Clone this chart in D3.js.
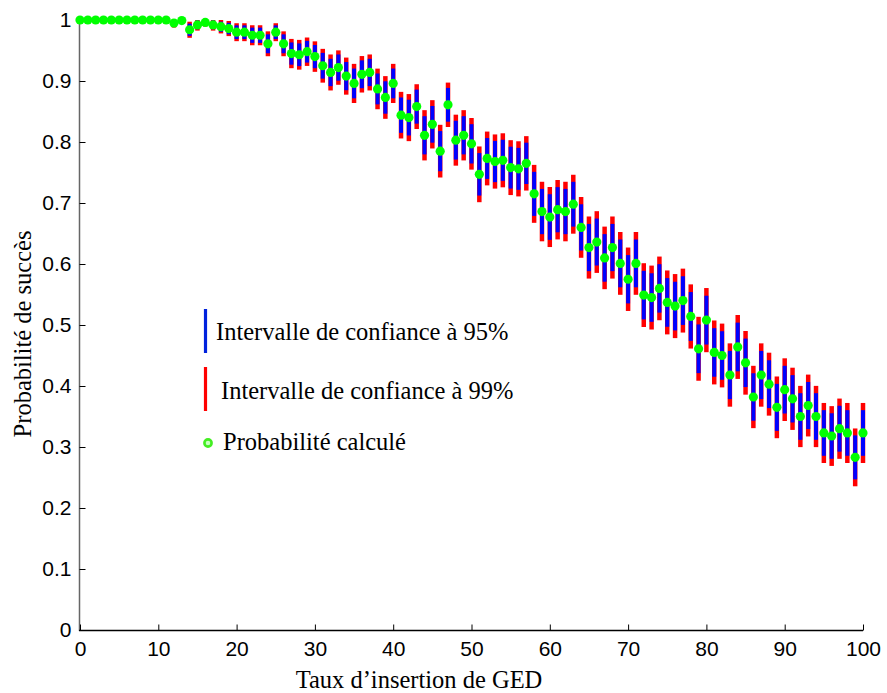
<!DOCTYPE html>
<html><head><meta charset="utf-8">
<script src="https://cdn.jsdelivr.net/npm/d3@7/dist/d3.min.js"></script>
<style>body{margin:0;background:#fff}svg{display:block}</style>
</head><body>
<svg id="c" width="887" height="693"></svg>
<script>
// Taux d'insertion de GED (x categories)
const rates = [0,1,2,3,4,5,6,7,8,9,10,11,12,13,14,15,16,17,18,19,20,21,22,23,24,25,26,27,28,29,30,31,32,33,34,35,36,37,38,39,40,41,42,43,44,45,46,47,48,49,50,51,52,53,54,55,56,57,58,59,60,61,62,63,64,65,66,67,68,69,70,71,72,73,74,75,76,77,78,79,80,81,82,83,84,85,86,87,88,89,90,91,92,93,94,95,96,97,98,99,100];
// Probabilité calculé
const prob = [1,1,1,1,1,1,1,1,1,1,1,1,
 0.995,0.999,0.984,0.992,0.996,0.992,0.989,0.986,0.980,0.980,0.975,0.975,0.961,0.980,0.961,0.945,0.943,0.948,0.940,
 0.925,0.914,0.922,0.908,0.896,0.911,0.914,0.887,0.873,0.896,0.844,0.840,0.858,0.811,0.829,0.785,0.861,0.803,0.811,0.797,
 0.747,0.773,0.768,0.770,0.758,0.756,0.765,0.715,0.686,0.677,0.689,0.686,0.698,0.660,0.627,0.636,0.610,0.627,0.601,0.575,
 0.601,0.549,0.545,0.560,0.537,0.531,0.540,0.514,0.461,0.508,0.455,0.450,0.418,0.464,0.438,0.382,0.418,0.403,0.365,0.394,
 0.379,0.350,0.368,0.350,0.323,0.318,0.330,0.323,0.283,0.323];
// half-width of the 95% confidence interval
const hw95 = [0,0,0,0,0,0,0,0,0,0,0,0,
 0.0056,0.0035,0.0100,0.0071,0.0051,0.0071,0.0083,0.0094,0.0112,0.0112,0.0125,0.0125,0.0155,0.0112,0.0155,0.0182,0.0186,0.0178,0.0190,
 0.0211,0.0224,0.0215,0.0231,0.0244,0.0228,0.0224,0.0253,0.0266,0.0244,0.0290,0.0293,0.0279,0.0313,0.0301,0.0329,0.0277,0.0318,0.0313,0.0322,
 0.0348,0.0335,0.0338,0.0337,0.0343,0.0344,0.0339,0.0361,0.0371,0.0374,0.0370,0.0371,0.0367,0.0379,0.0387,0.0385,0.0390,0.0387,0.0392,0.0396,
 0.0392,0.0398,0.0398,0.0397,0.0399,0.0399,0.0399,0.0400,0.0399,0.0400,0.0398,0.0398,0.0395,0.0399,0.0397,0.0389,0.0395,0.0392,0.0385,0.0391,
 0.0388,0.0382,0.0386,0.0382,0.0374,0.0373,0.0376,0.0374,0.0360,0.0374];
// half-width of the 99% confidence interval
const hw99 = [0,0,0,0,0,0,0,0,0,0,0,0,
 0.0074,0.0047,0.0132,0.0094,0.0066,0.0094,0.0110,0.0124,0.0147,0.0147,0.0164,0.0164,0.0204,0.0147,0.0204,0.0240,0.0244,0.0233,0.0250,
 0.0277,0.0295,0.0282,0.0304,0.0321,0.0299,0.0295,0.0333,0.0350,0.0321,0.0382,0.0386,0.0367,0.0412,0.0396,0.0432,0.0364,0.0418,0.0412,0.0423,
 0.0457,0.0441,0.0444,0.0443,0.0450,0.0452,0.0446,0.0475,0.0488,0.0492,0.0487,0.0488,0.0483,0.0498,0.0509,0.0506,0.0513,0.0509,0.0515,0.0520,
 0.0515,0.0523,0.0524,0.0522,0.0524,0.0525,0.0524,0.0526,0.0524,0.0526,0.0524,0.0523,0.0519,0.0524,0.0522,0.0511,0.0519,0.0516,0.0506,0.0514,
 0.0510,0.0502,0.0507,0.0502,0.0492,0.0490,0.0494,0.0492,0.0474,0.0492];
const xTicks = [0,10,20,30,40,50,60,70,80,90,100];
const yTicks = [0,0.1,0.2,0.3,0.4,0.5,0.6,0.7,0.8,0.9,1];
const legendLabels = ["Intervalle de confiance à 95%","Intervalle de confiance à 99%","Probabilité calculé"];
const xTitle = "Taux d\u2019insertion de GED";
const yTitle = "Probabilité de succès";

const data = rates.map((r,i)=>({x:r,p:prob[i],h95:hw95[i],h99:hw99[i]}));
const svg = d3.select("#c");
const x = d3.scaleLinear().domain([0,100]).range([80,863]);
const y = d3.scaleLinear().domain([0,1]).range([630,20]);
const clip = v => Math.min(1, v);

// axis lines
svg.append("line").attr("x1",79.5).attr("x2",79.5).attr("y1",17).attr("y2",631).attr("stroke","#666").attr("stroke-width",1.5);
svg.append("line").attr("x1",79).attr("x2",863).attr("y1",630.5).attr("y2",630.5).attr("stroke","#000").attr("stroke-width",1.5);

const tickFont = "'Liberation Sans', Arial, sans-serif";
const gy = svg.append("g").attr("transform","translate(79.5,0)")
  .call(d3.axisLeft(y).tickValues(yTicks).tickSize(-6).tickPadding(8).tickFormat(d3.format("~g")));
gy.select(".domain").remove();
gy.selectAll("text").attr("font-family",tickFont).attr("font-size",21).attr("fill","#000");
gy.selectAll("line").attr("stroke","#000");

const gx = svg.append("g").attr("transform","translate(0,630.5)")
  .call(d3.axisBottom(x).tickValues(xTicks).tickSize(-6).tickPadding(11).tickFormat(d3.format("d")));
gx.select(".domain").remove();
gx.selectAll("text").attr("font-family",tickFont).attr("font-size",21).attr("fill","#000");
gx.selectAll("line").attr("stroke","#000");

// 99% bars (red) behind, 95% bars (blue) on top
svg.append("g").selectAll("line").data(data.filter(d=>d.h99>0)).join("line")
  .attr("x1",d=>x(d.x)).attr("x2",d=>x(d.x))
  .attr("y1",d=>y(clip(d.p+d.h99))).attr("y2",d=>y(d.p-d.h99))
  .attr("stroke","#ff0000").attr("stroke-width",4.5);
svg.append("g").selectAll("line").data(data.filter(d=>d.h95>0)).join("line")
  .attr("x1",d=>x(d.x)).attr("x2",d=>x(d.x))
  .attr("y1",d=>y(clip(d.p+d.h95))).attr("y2",d=>y(d.p-d.h95))
  .attr("stroke","#0000ff").attr("stroke-width",4);
svg.append("g").selectAll("circle").data(data).join("circle")
  .attr("cx",d=>x(d.x)).attr("cy",d=>y(d.p)).attr("r",4.6)
  .attr("fill","#00ff00");

// titles
const serif = "'Liberation Serif', 'Times New Roman', serif";
svg.append("text").attr("x",419).attr("y",688).attr("text-anchor","middle")
  .attr("font-family",serif).attr("font-size",24.5).text(xTitle);
svg.append("text").attr("transform","translate(31,334) rotate(-90)").attr("text-anchor","middle")
  .attr("font-family",serif).attr("font-size",24.5).text(yTitle);

// legend
const lg = svg.append("g");
lg.append("line").attr("x1",205.5).attr("x2",205.5).attr("y1",309).attr("y2",353).attr("stroke","#0022dd").attr("stroke-width",3.2);
lg.append("line").attr("x1",205.5).attr("x2",205.5).attr("y1",367).attr("y2",411).attr("stroke","#ff0000").attr("stroke-width",3.2);
lg.append("circle").attr("cx",208).attr("cy",443).attr("r",3.6).attr("fill","#c8ffc0").attr("stroke","#44ee22").attr("stroke-width",2.6);
const lx = [216,221,223], ly = [340,399,450];
lg.selectAll("text").data(legendLabels).join("text")
  .attr("x",(d,i)=>lx[i]).attr("y",(d,i)=>ly[i])
  .attr("font-family",serif).attr("font-size",24.5).text(d=>d);
</script>
</body></html>
